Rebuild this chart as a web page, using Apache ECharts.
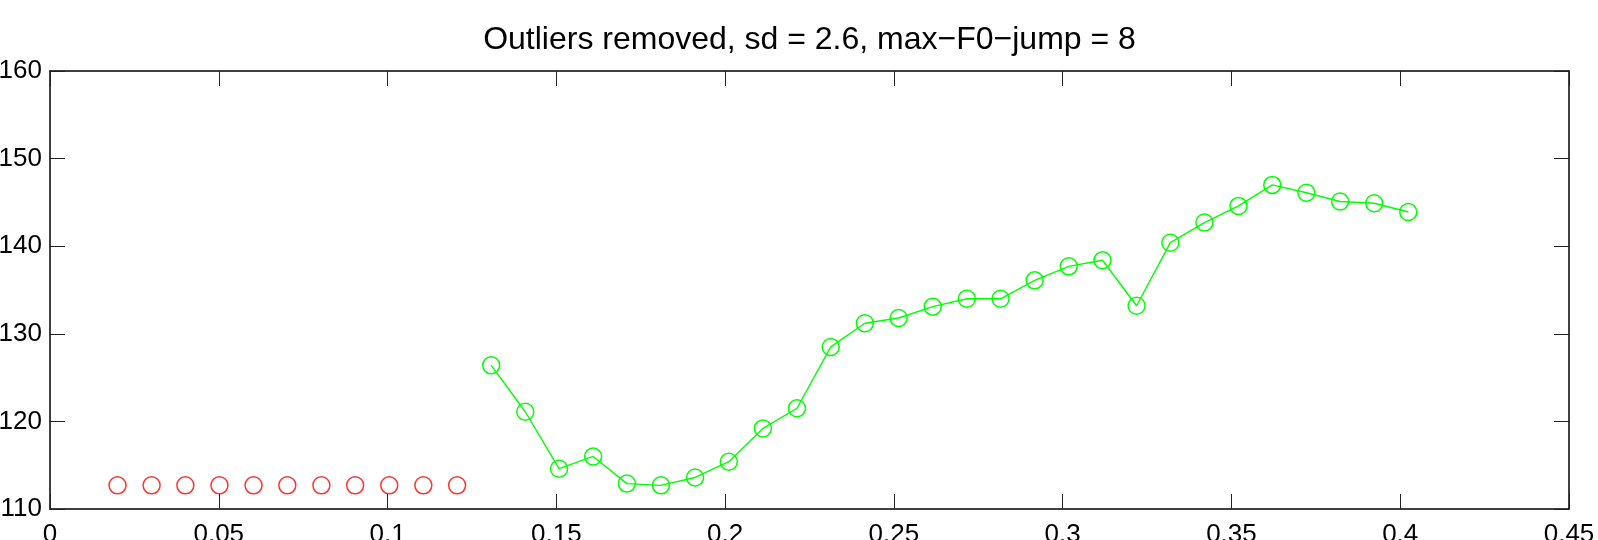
<!DOCTYPE html>
<html>
<head>
<meta charset="utf-8">
<script src="https://cdn.jsdelivr.net/npm/echarts@6/dist/echarts.min.js"></script>
<style>
html,body{margin:0;padding:0;background:#fff;}
#chart{width:1598px;height:540px;}
</style>
</head>
<body>
<div id="chart"></div>
<script>
const titleText = 'Outliers removed, sd = 2.6, max\u2212F0\u2212jump = 8';

const outlierTimes = [0.0200, 0.0301, 0.0401, 0.0502, 0.0603, 0.0703, 0.0804, 0.0904, 0.1005, 0.1106, 0.1206];
const outlierF0 = [112.7, 112.7, 112.7, 112.7, 112.7, 112.7, 112.7, 112.7, 112.7, 112.7, 112.7];

const keptTimes = [0.1307, 0.1408, 0.1508, 0.1609, 0.1709, 0.1810, 0.1911, 0.2011, 0.2112, 0.2213,
  0.2313, 0.2414, 0.2514, 0.2615, 0.2716, 0.2816, 0.2917, 0.3018, 0.3118, 0.3219,
  0.3319, 0.3420, 0.3521, 0.3621, 0.3722, 0.3822, 0.3923, 0.4024];
const keptF0 = [126.4, 121.1, 114.6, 116.0, 112.9, 112.7, 113.6, 115.4, 119.2, 121.5,
  128.5, 131.2, 131.8, 133.1, 134.0, 134.0, 136.1, 137.7, 138.4, 133.2,
  140.4, 142.7, 144.6, 147.0, 146.1, 145.1, 144.9, 143.9];

const xMin = 0, xMax = 0.45, xStep = 0.05;
const yMin = 110, yMax = 160, yStep = 10;

const FONT = '"Liberation Sans", Arial, Helvetica, sans-serif';

const pair = (xs, ys) => xs.map((x, i) => [x, ys[i]]);

const chart = echarts.init(document.getElementById('chart'), null, {renderer: 'canvas'});

const axisLine = {show: true, onZero: false, lineStyle: {color: '#000', width: 1.5}};
const tick = {show: true, inside: true, length: 15, lineStyle: {color: '#222', width: 1}};

const GRID = {left: 50, right: 29, top: 71, bottom: 31};

chart.setOption({
  animation: false,
  backgroundColor: '#fff',
  graphic: [{
    type: 'text',
    x: GRID.left + (1598 - GRID.left - GRID.right) / 2,
    y: 40.5,
    silent: true,
    style: {
      text: titleText,
      fontFamily: FONT, fontSize: 32, fontWeight: 'normal', fill: '#000',
      textAlign: 'center', textVerticalAlign: 'middle'
    }
  }],
  grid: {left: GRID.left, right: GRID.right, top: GRID.top, bottom: GRID.bottom,
    containLabel: false, outerBoundsMode: 'none'},
  xAxis: [
    {
      type: 'value', position: 'bottom', min: xMin, max: xMax, interval: xStep,
      axisLine: axisLine, axisTick: tick, splitLine: {show: false},
      axisLabel: {show: true, margin: 13, color: '#000', fontFamily: FONT, fontSize: 26,
        showMinLabel: true, showMaxLabel: true}
    },
    {
      type: 'value', position: 'top', min: xMin, max: xMax, interval: xStep,
      axisLine: axisLine, axisTick: tick, splitLine: {show: false}, axisLabel: {show: false}
    }
  ],
  yAxis: [
    {
      type: 'value', position: 'left', min: yMin, max: yMax, interval: yStep,
      axisLine: axisLine, axisTick: tick, splitLine: {show: false},
      axisLabel: {show: true, margin: 8, color: '#000', fontFamily: FONT, fontSize: 26,
        showMinLabel: true, showMaxLabel: true}
    },
    {
      type: 'value', position: 'right', min: yMin, max: yMax, interval: yStep,
      axisLine: axisLine, axisTick: tick, splitLine: {show: false}, axisLabel: {show: false}
    }
  ],
  series: [
    {
      type: 'scatter',
      data: pair(outlierTimes, outlierF0),
      symbol: 'circle',
      symbolSize: 17,
      itemStyle: {color: 'rgba(0,0,0,0)', borderColor: '#ff0000', borderWidth: 1.5},
      emphasis: {disabled: true}
    },
    {
      type: 'line',
      data: pair(keptTimes, keptF0),
      symbol: 'circle',
      symbolSize: 17,
      showAllSymbol: true,
      lineStyle: {color: '#00ff00', width: 1.4},
      itemStyle: {color: 'rgba(0,0,0,0)', borderColor: '#00ff00', borderWidth: 1.5},
      emphasis: {disabled: true}
    }
  ]
});
</script>
</body>
</html>
